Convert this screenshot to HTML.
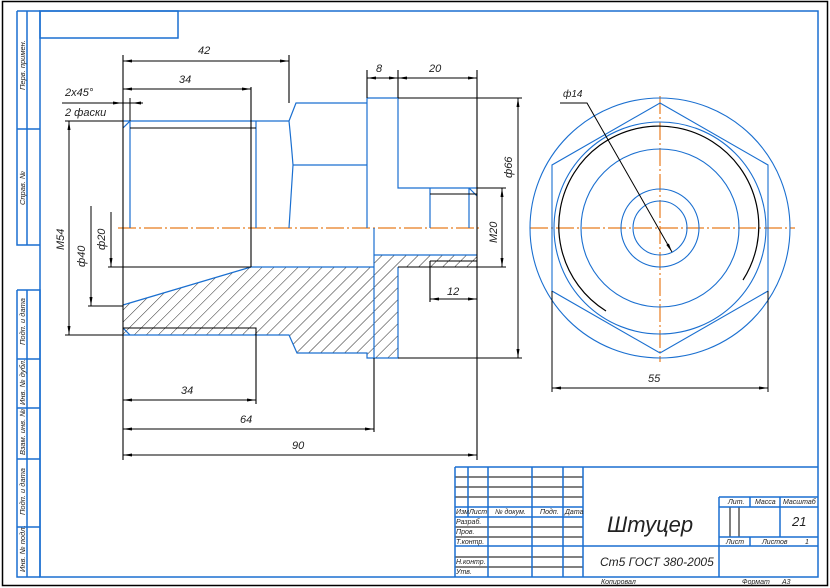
<!DOCTYPE html>
<html><head><meta charset="utf-8"><style>
html,body{margin:0;padding:0;background:#fff;}
svg{display:block;}
text{font-family:"Liberation Sans",sans-serif;font-style:italic;fill:#222;}
</style></head><body>
<svg width="830" height="588" viewBox="0 0 830 588" xmlns="http://www.w3.org/2000/svg">
<defs>
<pattern id="h" patternUnits="userSpaceOnUse" width="8.5" height="8.5" patternTransform="rotate(45)">
<line x1="0" y1="0" x2="0" y2="8.5" stroke="#111" stroke-width="0.9"/>
</pattern>
<marker id="a" markerWidth="10" markerHeight="6" refX="9" refY="3" orient="auto" markerUnits="userSpaceOnUse">
<path d="M0,1.5 L9,3 L0,4.5 Z" fill="#000"/>
</marker>
<marker id="b" markerWidth="10" markerHeight="6" refX="1" refY="3" orient="auto" markerUnits="userSpaceOnUse">
<path d="M10,1.5 L1,3 L10,4.5 Z" fill="#000"/>
</marker>
</defs>
<!-- outer frame -->
<rect x="2.5" y="1.5" width="825" height="584" fill="none" stroke="#000" stroke-width="1.5"/>
<g fill="none" stroke="#1a6fd0" stroke-width="1.5">
<rect x="40" y="11" width="778" height="566"/>
<rect x="40" y="11" width="138" height="27"/>
<path d="M17,11 V245 H40 M27,11 V245 M17,11 H40 M17,129 H40"/>
<path d="M17,290 H40 V577 M17,290 V577 H40 M27,290 V577 M17,359 H40 M17,408 H40 M17,459 H40 M17,527 H40"/>
</g>
<g font-size="7.5">
<text transform="translate(25,90) rotate(-90)">Перв. примен.</text>
<text transform="translate(25,205) rotate(-90)">Справ. №</text>
<text transform="translate(25,345) rotate(-90)">Подп. и дата</text>
<text transform="translate(25,405) rotate(-90)">Инв. № дубл.</text>
<text transform="translate(25,455) rotate(-90)">Взам. инв. №</text>
<text transform="translate(25,515) rotate(-90)">Подп. и дата</text>
<text transform="translate(25,572) rotate(-90)">Инв. № подл.</text>
</g>

<!-- hatching -->
<path d="M123,305 L251,267 L374,267 L374,358 L367,358 L367,353 L297,353 L289,335 L123,335 Z" fill="url(#h)"/>
<path d="M374,255 L477,255 L477,267 L398,267 L398,358 L374,358 Z" fill="url(#h)"/>

<!-- centerlines -->
<g stroke="#e87c1e" stroke-width="1.2" stroke-dasharray="18,3,2,3" fill="none">
<path d="M118,228 H482"/>
<path d="M530,228 H795"/>
<path d="M660,96 V362"/>
</g>

<!-- main view blue -->
<g fill="none" stroke="#1a6fd0" stroke-width="1.2">
<path d="M123,121 H289 M130,121 V228 M256,121 V228"/>
<path d="M123,128 L130,121"/>
<path d="M289,121 L296,103 H367 M289,121 Q291,140 293,165 L289,228 M293,165 H367 M367,98 V228 M367,98 H398 V188 H477 M430,188 V228 M469,188 V228 M469,188 L477,196"/>
<path d="M123,305 L251,267 H374 M374,228 V358 M374,255 H477"/>
<path d="M123,335 H289 L297,353 H367 V358 H398 V267"/>
<path d="M123,328 L130,335"/>
</g>
<!-- main view black -->
<g fill="none" stroke="#000" stroke-width="1.1">
<path d="M130,128 H256 M251,87 V267 M108,267 H251 M123,55 V460 M289,55 V103"/>
<path d="M398,98 H477 M430,194 H477 M430,261 H477 M398,267 H477 M430,261 V302 M477,70 V460 M367,70 V98 M398,70 V98"/>
<path d="M123,328 H256 V404 M374,358 V432 M398,358 H522 M477,98 H522 M477,188 H506 M477,267 H506"/>
<path d="M65,121 H123 M65,335 H123 M88,306 H123"/>
</g>
<!-- dimension lines -->
<g fill="none" stroke="#000" stroke-width="1" marker-start="url(#b)" marker-end="url(#a)">
<path d="M123,61 H289"/>
<path d="M123,89 H251"/>
<path d="M367,78 H398"/>
<path d="M398,78 H477"/>
<path d="M518,98 V358"/>
<path d="M502,188 V267"/>
<path d="M430,299 H477"/>
<path d="M123,400 H256"/>
<path d="M123,429 H374"/>
<path d="M123,455 H477"/>
<path d="M69,121 V335"/>
<path d="M552,388 H768"/>
</g>
<g fill="none" stroke="#000" stroke-width="1">
<path d="M91,206 V306" marker-end="url(#a)"/>
<path d="M111,212 V267" marker-end="url(#a)"/>
<path d="M62,103 H143"/>
<path d="M113,103 L122,103" marker-end="url(#a)"/>
<path d="M141,103 L132,103" marker-end="url(#a)"/>
<path d="M130,98 V121"/>
</g>
<g font-size="11">
<text x="198" y="54">42</text>
<text x="179" y="83">34</text>
<text x="65" y="96">2x45°</text>
<text x="65" y="116">2 фаски</text>
<text x="376" y="72">8</text>
<text x="429" y="72">20</text>
<text x="181" y="394">34</text>
<text x="240" y="423">64</text>
<text x="292" y="449">90</text>
<text x="447" y="295">12</text>
<text transform="translate(64,250) rotate(-90)">M54</text>
<text transform="translate(85,267) rotate(-90)">ф40</text>
<text transform="translate(105,250) rotate(-90)">ф20</text>
<text transform="translate(512,178) rotate(-90)">ф66</text>
<text transform="translate(497,243) rotate(-90)">M20</text>
<text x="648" y="382">55</text>
<text x="563" y="97" font-size="10">ф14</text>
</g>

<!-- side view -->
<g fill="none" stroke="#1a6fd0" stroke-width="1.1">
<circle cx="660" cy="228" r="130"/>
<circle cx="660" cy="228" r="106"/>
<circle cx="660" cy="228" r="79"/>
<circle cx="660" cy="228" r="39"/>
<circle cx="660" cy="228" r="27"/>
<polygon points="660,103 768,165 768,291 660,353 552,291 552,165"/>
</g>
<path d="M606,311 A100,100 0 1 1 743,280" fill="none" stroke="#000" stroke-width="1.2"/>
<g fill="none" stroke="#000" stroke-width="1">
<path d="M560,103 H587 L672,252" marker-end="url(#a)"/>
<path d="M552,291 V392 M768,291 V392"/>
</g>

<!-- title block -->
<g fill="none" stroke="#000" stroke-width="1">
<path d="M455,477 H583 M455,487 H583 M455,497 H583 M455,527 H583 M455,537 H583 M455,557 H583 M455,567 H583"/>
<path d="M730,507 V537 M739,507 V537"/>
</g>
<g fill="none" stroke="#1a6fd0" stroke-width="1.5">
<path d="M455,467 H818 M455,467 V577 M468,467 V517 M488,467 V577 M532,467 V577 M563,467 V577 M583,467 V577"/>
<path d="M455,507 H583 M455,517 H583 M455,546 H818 M719,497 H818 M719,507 H818 M719,537 H818 M719,497 V577 M750,497 V507 M780,497 V537 M750,537 V546"/>
</g>
<g font-size="7">
<text x="456" y="514">Изм</text><text x="469" y="514">Лист</text><text x="495" y="514">№ докум.</text><text x="540" y="514">Подп.</text><text x="565" y="514">Дата</text>
<text x="456" y="524">Разраб.</text><text x="456" y="534">Пров.</text><text x="456" y="544">Т.контр.</text>
<text x="456" y="564">Н.контр.</text><text x="456" y="574">Утв.</text>
<text x="728" y="504">Лит.</text><text x="755" y="504">Масса</text><text x="783" y="504">Масштаб</text>
<text x="726" y="544">Лист</text><text x="762" y="544">Листов</text><text x="805" y="544">1</text>
<text x="601" y="584">Копировал</text><text x="742" y="584">Формат</text><text x="782" y="584">A3</text>
</g>
<text x="607" y="532" font-size="22">Штуцер</text>
<text x="792" y="526" font-size="13">21</text>
<text x="600" y="566" font-size="12">Ст5 ГОСТ 380-2005</text>
</svg>
</body></html>
